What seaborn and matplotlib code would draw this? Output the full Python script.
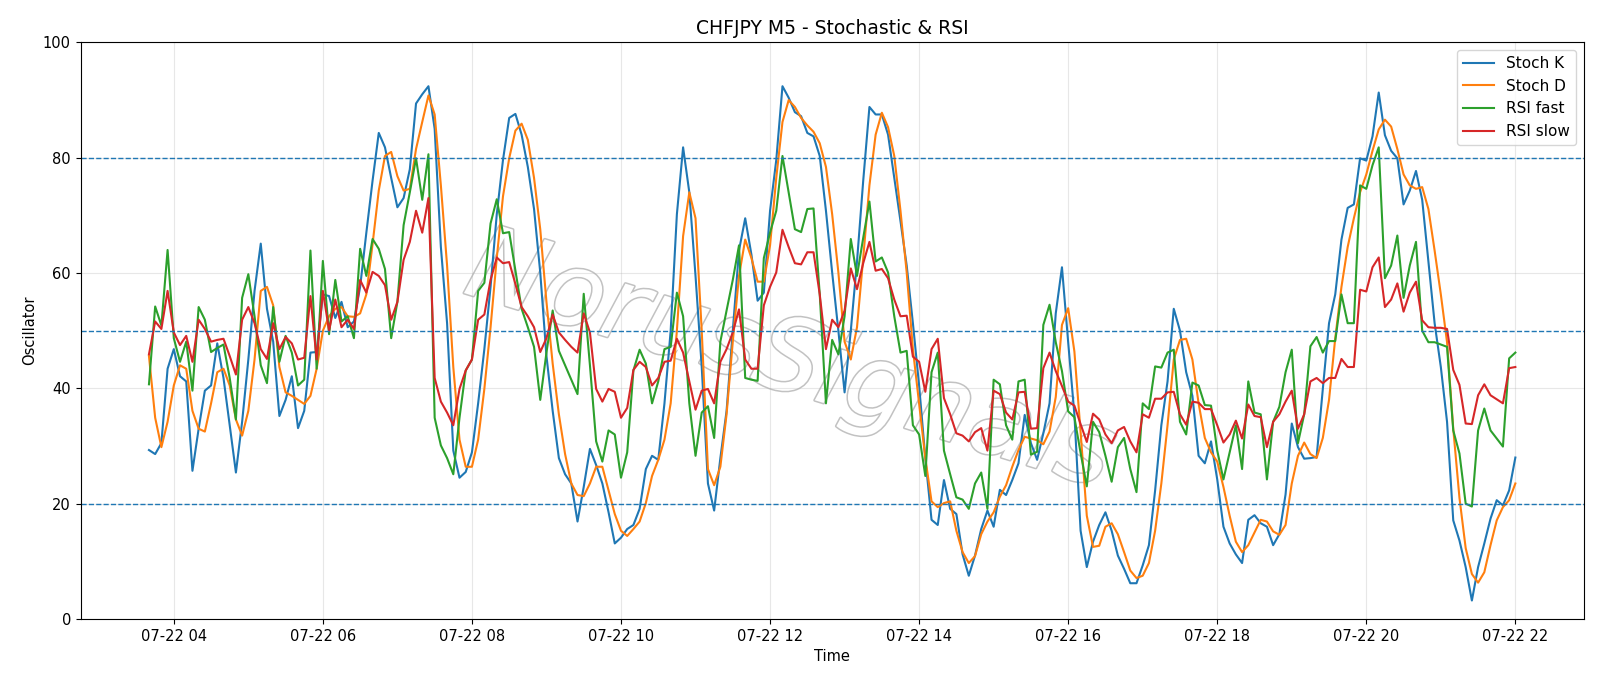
import pandas as pd
import seaborn as sns
import matplotlib
matplotlib.use('Agg')
import matplotlib.pyplot as plt
import matplotlib.dates as mdates
import matplotlib.patheffects as pe

# 5-minute bars, 07-22 03:40 -> 22:00 (221 bars)
start_time = '2024-07-22 03:40'
n_bars = 221

stoch_k = [
    29.3, 28.6, 30.5, 43.4, 46.8, 42.1, 41.2, 25.7, 33.0, 39.6,
    40.5, 47.8, 41.8, 33.6, 25.4, 34.2, 45.0, 56.9, 65.1, 53.8,
    48.1, 35.2, 38.0, 42.1, 33.1, 36.1, 46.2, 46.3, 56.3, 56.0,
    52.2, 55.0, 50.6, 51.6, 57.6, 67.0, 76.0, 84.3, 81.8, 76.5,
    71.4, 73.0, 78.0, 89.4, 91.0, 92.4, 85.0, 64.5, 51.3, 29.2,
    24.5, 25.5, 28.9, 37.4, 46.8, 57.6, 70.2, 79.6, 86.9, 87.6,
    84.0, 78.4, 71.1, 60.1, 45.6, 36.1, 27.9, 25.1, 23.5, 16.9,
    22.9, 29.5, 26.7, 23.5, 18.5, 13.1, 14.1, 15.6, 16.3, 19.1,
    26.0, 28.3, 27.6, 37.4, 50.0, 70.2, 81.8, 74.0, 59.5, 43.7,
    23.5, 18.8, 27.9, 36.1, 50.0, 63.9, 69.5, 63.2, 55.2, 56.6,
    70.8, 79.6, 92.4, 90.4, 87.9, 87.2, 84.3, 83.7, 80.3, 70.8,
    60.1, 50.0, 39.3, 50.0, 62.0, 76.0, 88.8, 87.5, 87.5, 84.0,
    76.5, 69.0, 61.3, 51.3, 40.5, 27.9, 17.2, 16.3, 24.1, 19.1,
    18.2, 11.2, 7.5, 11.0, 15.6, 18.8, 16.0, 22.4, 21.5, 24.1,
    27.0, 35.4, 30.5, 27.6, 32.2, 37.4, 53.0, 61.0, 48.0, 35.5,
    15.3, 9.0, 13.4, 16.3, 18.5, 15.3, 11.0, 8.7, 6.2, 6.2,
    9.3, 12.8, 22.3, 33.6, 41.2, 53.8, 50.0, 42.8, 38.7, 28.3,
    27.0, 30.8, 24.2, 16.0, 13.1, 11.2, 9.7, 17.2, 18.0, 16.6,
    16.0, 12.8, 14.7, 21.6, 33.9, 29.8, 27.8, 27.9, 28.1, 39.9,
    51.3, 56.3, 65.8, 71.3, 71.9, 79.9, 79.5, 83.7, 91.3, 83.9,
    81.2, 79.9, 71.9, 74.3, 77.7, 72.7, 62.0, 51.3, 43.7, 34.2,
    17.1, 13.6, 9.0, 3.2, 9.0, 13.1, 17.4, 20.6, 19.7, 22.3,
    28.0,
]

stoch_d = [
    45.6, 34.9, 29.8, 34.2, 40.5, 44.0, 43.4, 36.1, 33.0, 32.5,
    37.4, 42.8, 43.4, 40.5, 34.6, 31.8, 36.1, 45.0, 56.9, 57.6,
    54.4, 43.7, 39.3, 38.7, 38.0, 37.3, 38.7, 43.4, 50.0, 52.5,
    53.8, 54.1, 52.5, 52.4, 53.0, 56.3, 65.0, 74.3, 80.3, 81.0,
    76.8, 74.3, 74.6, 81.5, 86.2, 90.8, 87.5, 75.2, 61.3, 43.7,
    31.1, 26.4, 26.4, 31.1, 39.9, 50.6, 62.6, 73.3, 79.9, 84.7,
    85.9, 83.1, 76.5, 67.6, 55.0, 44.3, 35.5, 28.6, 23.5, 21.5,
    21.3, 23.5, 26.4, 26.4, 22.3, 18.2, 15.3, 14.4, 15.6, 16.9,
    20.1, 24.8, 27.6, 31.1, 37.4, 50.0, 66.4, 74.0, 69.5, 50.0,
    26.0, 23.2, 26.4, 35.5, 48.1, 59.5, 65.8, 62.6, 58.5, 58.5,
    64.8, 76.5, 86.2, 90.0, 88.8, 86.9, 85.6, 84.5, 82.5, 78.4,
    70.2, 60.1, 48.1, 45.0, 50.6, 62.6, 75.2, 84.0, 87.8, 85.3,
    80.3, 70.8, 60.1, 46.8, 37.4, 27.9, 20.4, 19.4, 20.1, 20.4,
    15.3, 11.6, 9.7, 10.9, 14.7, 16.9, 18.5, 21.2, 23.2, 26.4,
    29.3, 31.6, 31.3, 31.0, 30.3, 32.5, 38.5, 51.0, 53.9, 46.4,
    32.4, 17.9, 12.5, 12.7, 16.0, 16.6, 14.7, 11.6, 8.4, 7.1,
    7.5, 9.7, 15.3, 23.5, 33.6, 45.0, 48.4, 48.6, 45.0, 37.4,
    31.4, 28.9, 27.3, 22.9, 17.9, 13.4, 11.6, 12.8, 15.0, 17.2,
    16.9, 15.2, 14.6, 16.3, 23.5, 28.3, 30.6, 28.6, 27.9, 31.4,
    38.0, 48.7, 57.6, 64.5, 69.5, 74.0, 77.1, 81.2, 84.9, 86.6,
    85.4, 81.5, 77.1, 75.2, 74.6, 74.9, 71.1, 63.9, 56.3, 48.0,
    33.0, 21.0, 12.3, 7.8, 6.3, 8.1, 12.8, 17.1, 19.4, 20.6,
    23.5,
]

rsi_fast = [
    40.7, 54.2, 50.9, 64.0, 48.7, 44.6, 48.1, 39.6, 54.1, 51.9,
    46.3, 47.0, 47.6, 41.8, 34.6, 55.7, 59.8, 52.5, 44.0, 40.9,
    54.1, 44.6, 49.1, 46.2, 40.5, 41.5, 63.9, 43.4, 62.1, 49.4,
    58.8, 51.6, 52.5, 48.7, 64.2, 59.5, 65.9, 64.2, 60.7, 48.7,
    55.0, 68.3, 74.0, 79.9, 72.7, 80.6, 34.9, 30.1, 27.9, 25.1,
    34.9, 43.1, 45.0, 56.9, 58.3, 68.6, 72.8, 66.9, 67.1, 60.4,
    53.8, 50.6, 47.2, 38.0, 46.2, 53.5, 46.5, 44.0, 41.5, 39.0,
    56.4, 44.0, 30.8, 27.3, 32.7, 32.0, 24.5, 28.9, 43.1, 46.7,
    44.3, 37.4, 41.2, 46.8, 47.2, 56.6, 52.5, 37.4, 28.3, 35.8,
    36.9, 31.4, 48.1, 53.5, 58.8, 64.8, 41.8, 41.5, 41.3, 62.6,
    67.0, 70.8, 80.3, 74.0, 67.6, 67.1, 71.1, 71.2, 56.3, 37.4,
    48.4, 45.9, 52.5, 65.9, 59.5, 66.1, 72.4, 62.0, 62.7, 60.1,
    52.5, 46.2, 46.5, 33.6, 32.0, 24.8, 42.8, 46.2, 29.2, 25.1,
    21.1, 20.7, 19.1, 23.5, 25.4, 19.1, 41.5, 40.7, 33.6, 31.1,
    41.2, 41.5, 28.5, 29.0, 51.0, 54.5, 48.0, 43.0, 36.0, 35.0,
    28.8, 23.0, 34.2, 32.4, 28.3, 23.8, 29.8, 31.4, 26.0, 22.0,
    37.4, 36.4, 43.8, 43.6, 46.2, 46.7, 34.2, 32.0, 41.0, 40.5,
    37.1, 37.0, 29.2, 24.2, 28.9, 33.6, 26.0, 41.2, 35.8, 35.5,
    24.2, 34.2, 36.8, 42.8, 46.7, 30.5, 35.5, 47.3, 48.9, 46.2,
    48.2, 48.2, 56.3, 51.3, 51.3, 75.2, 74.6, 78.7, 81.8, 59.1,
    61.3, 66.5, 55.7, 61.3, 65.4, 50.0, 48.0, 48.0, 47.6, 47.2,
    32.7, 28.7, 20.0, 19.5, 32.7, 36.5, 32.7, 31.3, 29.9, 45.2,
    46.2,
]

rsi_slow = [
    45.9, 51.6, 50.3, 56.9, 49.7, 47.5, 49.1, 44.6, 51.9, 50.3,
    48.1, 48.4, 48.6, 45.6, 42.4, 51.9, 54.1, 51.3, 46.8, 45.1,
    51.3, 46.8, 48.9, 47.8, 45.0, 45.3, 56.0, 45.0, 56.9, 50.0,
    55.4, 50.6, 51.9, 50.3, 58.8, 56.6, 60.2, 59.5, 57.9, 51.9,
    55.0, 62.3, 65.4, 70.8, 67.0, 73.0, 41.8, 37.7, 35.8, 33.6,
    39.9, 43.1, 45.0, 51.9, 52.8, 58.8, 62.7, 61.7, 61.9, 58.1,
    54.1, 52.5, 50.6, 46.3, 48.7, 52.8, 49.7, 48.4, 47.2, 46.2,
    53.0, 49.7, 39.9, 37.7, 39.9, 39.4, 34.9, 36.6, 43.2, 44.6,
    43.7, 40.5, 41.8, 44.6, 44.8, 48.6, 46.2, 41.2, 36.3, 39.6,
    39.9, 37.4, 44.6, 46.8, 49.7, 53.7, 45.0, 43.4, 43.4, 54.4,
    57.6, 60.1, 67.5, 64.5, 61.7, 61.5, 63.6, 63.6, 56.3, 46.8,
    51.9, 50.6, 53.5, 60.8, 57.2, 61.7, 65.4, 60.4, 60.7, 59.1,
    55.4, 52.5, 52.6, 45.5, 44.6, 39.4, 46.8, 48.6, 38.3, 35.5,
    32.2, 31.8, 30.8, 32.4, 33.1, 29.2, 39.6, 39.0, 35.8, 34.6,
    39.3, 39.4, 33.0, 33.1, 43.5, 46.2, 43.0, 40.4, 37.7, 37.0,
    33.8, 30.7, 35.6, 34.6, 32.0, 30.5, 32.7, 33.3, 30.8, 28.9,
    35.5, 34.9, 38.2, 38.2, 39.3, 39.4, 35.5, 33.7, 37.7, 37.5,
    36.4, 36.4, 33.6, 30.6, 32.0, 34.4, 31.3, 37.2, 35.2, 35.0,
    29.8, 34.2, 35.5, 37.7, 39.6, 33.0, 35.5, 41.2, 41.8, 40.9,
    41.8, 41.8, 45.1, 43.7, 43.7, 57.1, 56.8, 61.0, 62.7, 54.1,
    55.4, 58.2, 53.3, 56.6, 58.5, 51.8, 50.6, 50.5, 50.5, 50.3,
    43.2, 40.6, 33.9, 33.8, 38.8, 40.7, 38.8, 38.1, 37.4, 43.5,
    43.7,
]

levels = [80, 50, 20]
series_names = ['Stoch K', 'Stoch D', 'RSI fast', 'RSI slow']
colors = ['tab:blue', 'tab:orange', 'tab:green', 'tab:red']

df = pd.DataFrame({
    'time': pd.date_range(start_time, periods=n_bars, freq='5min'),
    'Stoch K': stoch_k,
    'Stoch D': stoch_d,
    'RSI fast': rsi_fast,
    'RSI slow': rsi_slow,
})

fig, ax = plt.subplots(figsize=(16, 6.86), dpi=100)
fig.subplots_adjust(left=0.0504, right=0.9898, bottom=0.0977, top=0.9382)

for name, c in zip(series_names, colors):
    sns.lineplot(data=df, x='time', y=name, ax=ax, label=name, color=c, linewidth=1.5)

for lvl in levels:
    ax.axhline(lvl, linestyle='--', linewidth=1, color='tab:blue')

# watermark
ax.text(0.472, 0.445, 'NorusSignals', transform=ax.transAxes, fontsize=74,
        fontstyle='italic', color='white', rotation=-17, ha='center', va='center',
        zorder=0.5,
        path_effects=[pe.withStroke(linewidth=2.2, foreground='#c2c2c2')])

ax.set_ylim(0, 100)
ax.grid(True, alpha=0.3)
ax.xaxis.set_major_locator(mdates.HourLocator(byhour=range(0, 24, 2)))
ax.xaxis.set_major_formatter(mdates.DateFormatter('%m-%d %H'))
ax.tick_params(labelsize=10.5)
ax.set_title('CHFJPY M5 - Stochastic & RSI', fontsize=13.5)
ax.set_xlabel('Time', fontsize=10.5)
ax.set_ylabel('Oscillator', fontsize=10.5)
ax.legend(loc='upper right', fontsize=11)

fig.savefig('out.png', dpi=100)
